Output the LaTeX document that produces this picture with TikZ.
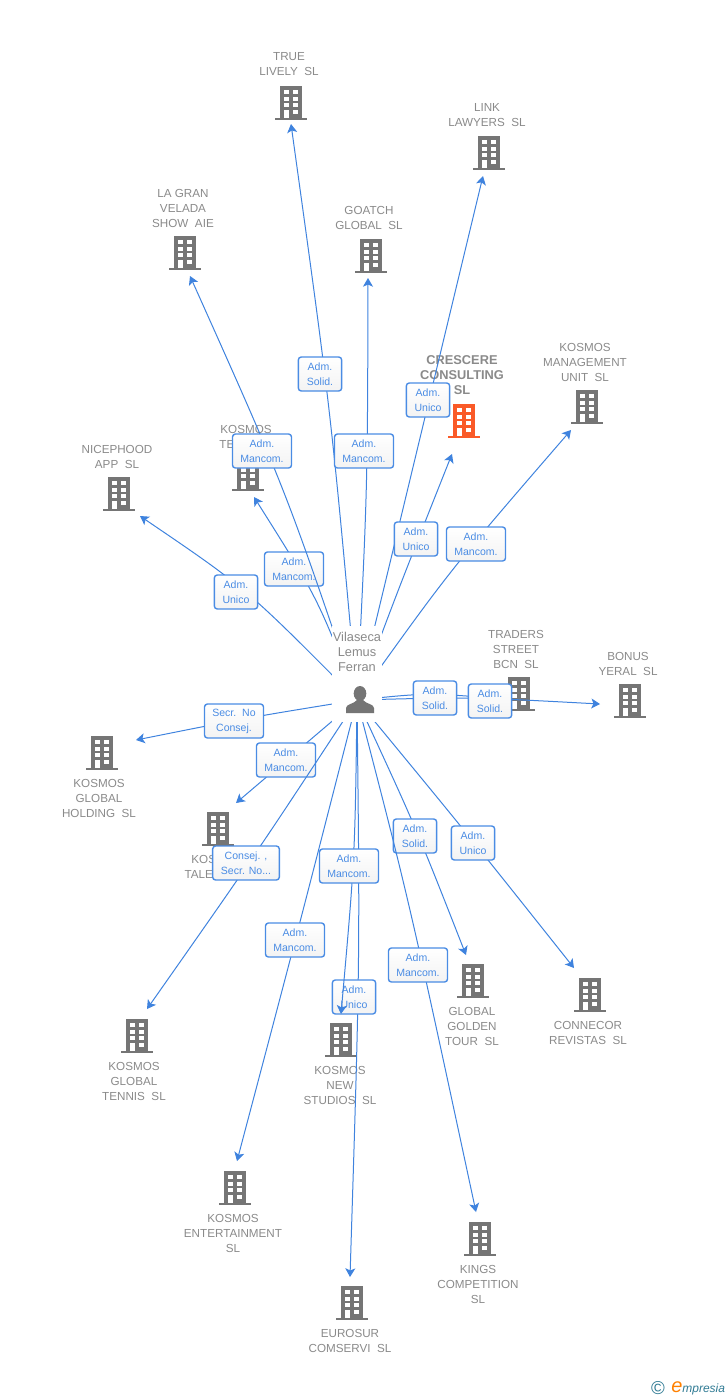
\documentclass[tikz,border=0pt]{standalone}
\usepackage{fontspec}
\setmainfont{Liberation Sans}
\usetikzlibrary{arrows.meta}
\definecolor{bldggrey}{HTML}{757575}
\definecolor{bldgorange}{HTML}{FA5A28}
\definecolor{txtgrey}{HTML}{8A8A8A}
\definecolor{linkblue}{HTML}{3F83DE}
\definecolor{roleblue}{HTML}{4A8CE4}
\definecolor{rolefade}{HTML}{F3F3F3}
\definecolor{marklogo}{HTML}{2F7A93}
\tikzset{
  bldg/.style={inner sep=0, outer sep=0, minimum width=24pt, minimum height=25.5pt,
    path picture={
      \begin{scope}[shift={(path picture bounding box.center)}]
      \fill[#1] (-11,-17) rectangle (11,15);
      \fill[#1] (-16,14.5) rectangle (16,17);
      \foreach \wy in {-13,-6.5,0,6.5} {
        \fill[white] (1.7,\wy) rectangle (6.7,\wy+4);
      }
      \foreach \wy in {-13,-6.5,0} {
        \fill[white] (-7.5,\wy) rectangle (-2.5,\wy+4);
      }
      \fill[white] (-7.5,6.5) rectangle (-2.5,15);
      \end{scope}
    }},
  bldg/.default=bldggrey,
  txt/.style={align=center, inner sep=0, yshift=-.75pt, text=txtgrey, font=\fontsize{8.75}{11.25}\selectfont},
  link/.style={draw=linkblue, line width=.75pt, -{Stealth[length=6.5pt,width=7.5pt,inset=1.6pt]}},
  rolebox/.style={draw=roleblue, line width=1.05pt, rounded corners=2.2pt, top color=white, bottom color=rolefade,
    align=center, inner sep=0, minimum height=25.5pt, text=roleblue,
    font=\fontsize{7.9}{11.25}\selectfont},
  rolesm/.style={rolebox, minimum width=32.5pt},
  rolemd/.style={rolebox, minimum width=44.25pt},
  rolelg/.style={rolebox, minimum width=50pt},
}
\begin{document}
\begin{tikzpicture}[x=.75pt, y=-.75pt]
\useasboundingbox (0,0) rectangle (728,1400);
\node[bldg] (co0) at (291,103){};
\node[txt] (txt0) at (289,63.5){TRUE\\LIVELY\ \ SL};
\node[bldg] (co1) at (489,153){};
\node[txt] (txt1) at (487,114.5){LINK\\LAWYERS\ \ SL};
\node[bldg] (co2) at (185,253){};
\node[txt] (txt2) at (183,207){LA GRAN\\VELADA\\SHOW\ \ AIE};
\node[bldg] (co3) at (371,256){};
\node[txt] (txt3) at (369,216.5){GOATCH\\GLOBAL\ \ SL};
\node[bldg=bldgorange] (co4) at (464,421){};
\node[txt, yshift=.5pt, font=\fontsize{9.6}{11.25}\selectfont\bfseries] (txt4) at (462,375){CRESCERE\\CONSULTING\\SL};
\node[bldg] (co5) at (587,407){};
\node[txt] (txt5) at (585,361){KOSMOS\\MANAGEMENT\\UNIT\ \ SL};
\node[bldg] (co6) at (248,474){};
\node[txt] (txt6) at (246,435.5){KOSMOS\\TE\phantom{AM\ \ SL}};
\node[bldg] (co7) at (119,494){};
\node[txt] (txt7) at (117,455.5){NICEPHOOD\\APP\ \ SL};
\node[bldg] (co8) at (519,694){};
\node[txt] (txt8) at (516,648){TRADERS\\STREET\\BCN\ \ SL};
\node[bldg] (co9) at (630,701){};
\node[txt] (txt9) at (628,662.5){BONUS\\YERAL\ \ SL};
\node[bldg] (co10) at (102,753){};
\node[txt] (txt10) at (99,797){KOSMOS\\GLOBAL\\HOLDING\ \ SL};
\node[bldg] (co11) at (218,829){};
\node[txt] (txt11) at (217,865.5){KOS\phantom{MOS}\\TALE\phantom{NT\ \ SL}};
\node[bldg] (co12) at (137,1036){};
\node[txt] (txt12) at (134,1080){KOSMOS\\GLOBAL\\TENNIS\ \ SL};
\node[bldg] (co13) at (341,1040){};
\node[txt] (txt13) at (340,1084){KOSMOS\\NEW\\STUDIOS\ \ SL};
\node[bldg] (co14) at (473,981){};
\node[txt] (txt14) at (472,1025){GLOBAL\\GOLDEN\\TOUR\ \ SL};
\node[bldg] (co15) at (590,995){};
\node[txt] (txt15) at (588,1031.5){CONNECOR\\REVISTAS\ \ SL};
\node[bldg] (co16) at (235,1188){};
\node[txt] (txt16) at (233,1232){KOSMOS\\ENTERTAINMENT\\SL};
\node[bldg] (co17) at (480,1239){};
\node[txt] (txt17) at (478,1283){KINGS\\COMPETITION\\SL};
\node[bldg] (co18) at (352,1303){};
\node[txt] (txt18) at (350,1339.5){EUROSUR\\COMSERVI\ \ SL};
\node[inner sep=0, minimum width=30pt, minimum height=21pt] (person) at (357,700){};
\coordinate (tip0) at (291,124);
\coordinate (tip1) at (483,176);
\coordinate (tip2) at (190,276);
\coordinate (tip3) at (368,278);
\coordinate (tip4) at (452,454);
\coordinate (tip5) at (571,430);
\coordinate (tip6) at (254,497);
\coordinate (tip7) at (140,516);
\coordinate (tip8) at (495,698);
\coordinate (tip9) at (600,704);
\coordinate (tip10) at (136,740);
\coordinate (tip11) at (236,803);
\coordinate (tip12) at (147,1009);
\coordinate (tip13) at (341,1014);
\coordinate (tip14) at (466,955);
\coordinate (tip15) at (574,968);
\coordinate (tip16) at (237,1161);
\coordinate (tip17) at (476,1212);
\coordinate (tip18) at (350,1277);
\draw[link] (person.center) .. controls (331,412) .. (tip0);
\node[rolesm] (rol0) at (320,374){Adm.\\Solid.};
\draw[link] (person.center) .. controls (420,438) .. (tip1);
\node[rolesm] (rol1) at (428,400){Adm.\\Unico};
\draw[link] (person.center) .. controls (318,598.5) .. (tip6);
\node[rolemd] (rol6) at (294,569){Adm.\\Mancom.};
\draw[link] (person.center) .. controls (285,488) .. (tip2);
\node[rolemd] (rol2) at (262,451){Adm.\\Mancom.};
\draw[link] (person.center) .. controls (367.5,489) .. (tip3);
\node[rolemd] (rol3) at (364,451){Adm.\\Mancom.};
\draw[link] (person.center) .. controls (398,590) .. (tip4);
\node[rolesm] (rol4) at (416,539){Adm.\\Unico};
\draw[link] (person.center) .. controls (450,570) .. (tip5);
\node[rolemd] (rol5) at (476,544){Adm.\\Mancom.};
\draw[link] (person.center) .. controls (246,588) .. (tip7);
\node[rolesm] (rol7) at (236,592){Adm.\\Unico};
\draw[link] (person.center) .. controls (425,693) .. (tip8);
\draw[link] (person.center) .. controls (470,697) .. (tip9);
\node[rolesm] (rol8) at (435,698){Adm.\\Solid.};
\node[rolesm] (rol9) at (490,701){Adm.\\Solid.};
\draw[link] (person.center) .. controls (246,718) .. (tip10);
\node[rolemd] (rol10) at (234,721){Secr.\ \ No\\Consej.};
\draw[link] (person.center) .. controls (296.5,751.5) .. (tip11);
\node[rolemd] (rol11) at (286,760){Adm.\\Mancom.};
\draw[link] (person.center) .. controls (255.5,854.5) .. (tip12);
\node[rolelg] (rol12) at (246,863){Consej. ,\\Secr. No...};
\draw[link] (person.center) .. controls (416,827.5) .. (tip14);
\node[rolesm] (rol14) at (415,836){Adm.\\Solid.};
\draw[link] (person.center) .. controls (467.5,834) .. (tip15);
\node[rolesm] (rol15) at (473,843){Adm.\\Unico};
\draw[link] (person.center) .. controls (298,930.5) .. (tip16);
\node[rolemd] (rol16) at (295,940){Adm.\\Mancom.};
\draw[link] (person.center) .. controls (409,900) .. (tip17);
\node[rolemd] (rol17) at (418,965){Adm.\\Mancom.};
\draw[link] (person.center) .. controls (360,960) .. (tip18);
\node[rolesm] (rol18) at (354,997){Adm.\\Unico};
\draw[link] (person.center) .. controls (355,857) .. (tip13);
\node[rolemd] (rol13) at (349,866){Adm.\\Mancom.};
\node[fill=white, inner sep=0, minimum width=37.5pt, minimum height=72pt] (hub) at (357,674){};
\node[txt, yshift=.75pt, font=\fontsize{9.6}{11.25}\selectfont] (hubname) at (357,652){Vilaseca\\Lemus\\Ferran};
\node[inner sep=0, minimum width=30pt, minimum height=21pt,
  path picture={
    \begin{scope}[shift={(path picture bounding box.center)}]
    \fill[bldggrey] (3,-6.5) ellipse (6.3 and 7.5);
    \fill[bldggrey] (-11,13) -- (-11,8) .. controls (-11,4) and (-3,4) .. (0,0) -- (6,0) .. controls (9,4) and (17,4) .. (17,8) -- (17,13) -- cycle;
    \end{scope}
  }] (icon) at (person){};
\node[inner sep=0, text=marklogo, font=\fontsize{14}{14}\selectfont] (copymark) at (658,1388.5){©};
\node[inner sep=0, anchor=west, text=marklogo, font=\fontsize{9}{10}\selectfont\itshape] (brand) at (671,1388.5){{\color{orange}\fontsize{15}{15}\selectfont e}mpresia};
\end{tikzpicture}
\end{document}
